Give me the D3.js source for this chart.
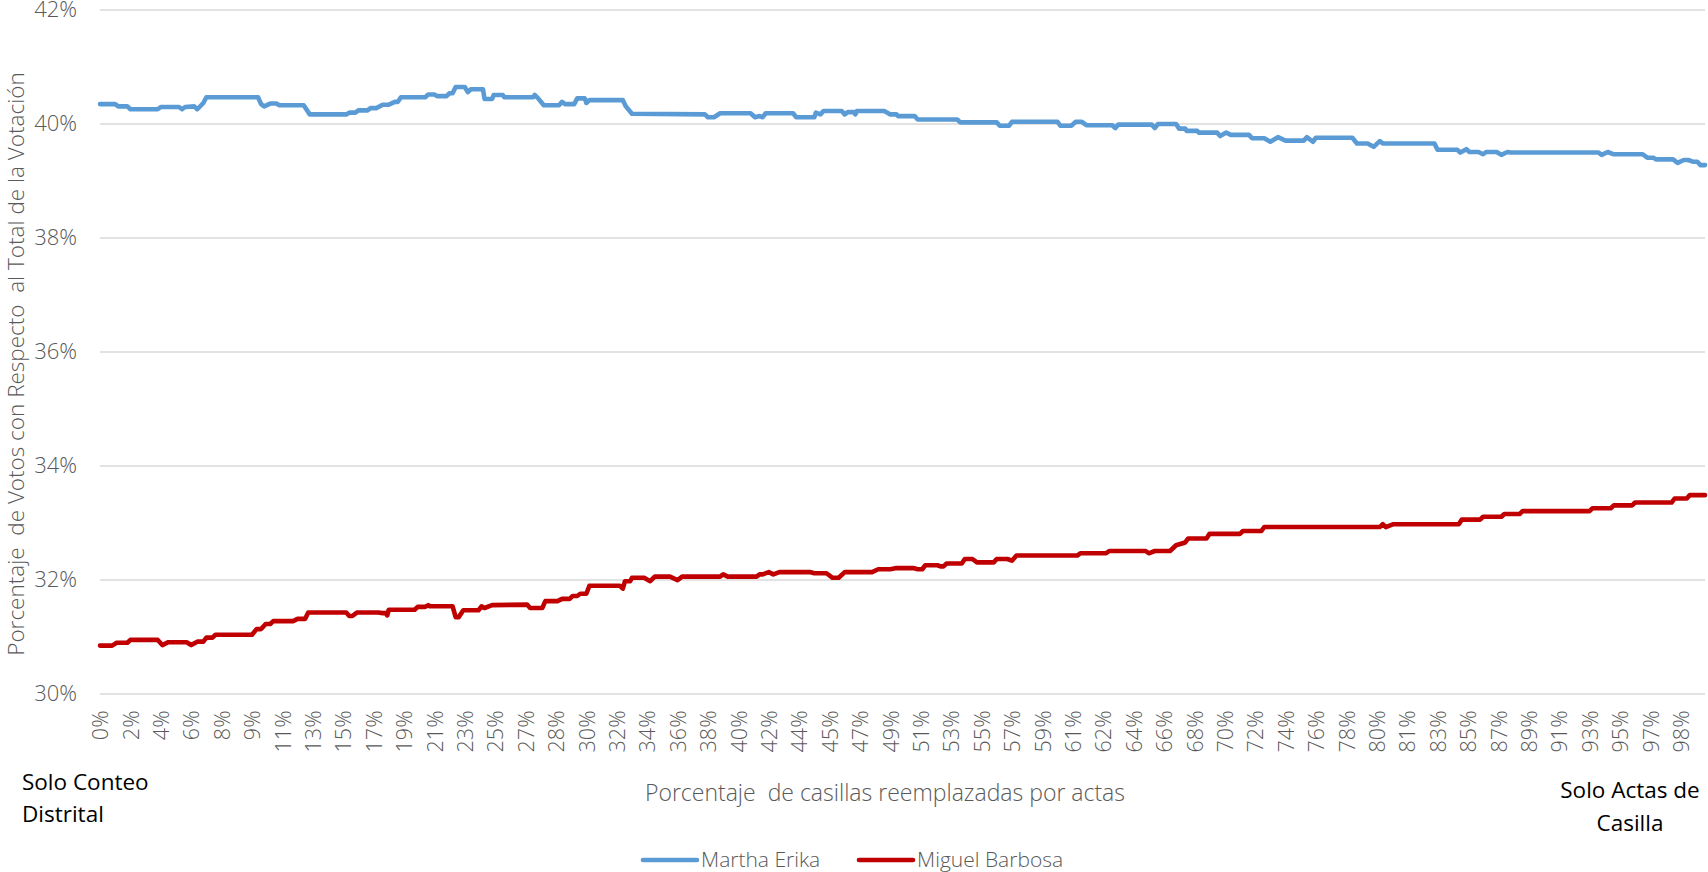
<!DOCTYPE html>
<html><head><meta charset="utf-8">
<script src="https://cdn.jsdelivr.net/npm/d3@7/dist/d3.min.js"></script>
<style>
body{margin:0;background:#fff;}
svg text{font-family:"Open Sans",sans-serif;}
</style></head><body>
<svg id="c" width="1708" height="872"></svg>
<script>
// ---- data (x = casilla index, 0..528; y = % of total votes) ----
const nCasillas = 528;
const labelStep = 10;
const xTickLabels = ["0%","2%","4%","6%","8%","9%","11%","13%","15%","17%","19%","21%","23%","25%","27%","28%","30%","32%","34%","36%","38%","40%","42%","44%","45%","47%","49%","51%","53%","55%","57%","59%","61%","62%","64%","66%","68%","70%","72%","74%","76%","78%","80%","81%","83%","85%","87%","89%","91%","93%","95%","97%","98%"];
const yTickValues = [30,32,34,36,38,40,42];
const seriesNames = ["Martha Erika","Miguel Barbosa"];
const seriesColors = ["#5B9BD5","#C00000"];

const marthaErika = [[0,40.34],[5,40.34],[6,40.30],[9,40.30],[10,40.25],[19,40.25],[20,40.29],[26,40.29],[27,40.25],[28,40.29],[31,40.30],[32,40.25],[34,40.36],[35,40.46],[52,40.46],[53,40.34],[54,40.30],[56,40.35],[58,40.35],[59,40.32],[67,40.32],[69,40.16],[81,40.16],[82,40.19],[84,40.19],[85,40.23],[88,40.23],[89,40.27],[91,40.27],[93,40.33],[95,40.33],[97,40.38],[98,40.38],[99,40.46],[107,40.46],[108,40.51],[110,40.51],[111,40.48],[114,40.48],[115,40.53],[116,40.53],[117,40.64],[120,40.64],[121,40.55],[122,40.60],[126,40.60],[126.5,40.43],[129,40.43],[129.5,40.50],[132.5,40.50],[133,40.46],[142.5,40.46],[143,40.50],[144,40.45],[146,40.32],[151,40.32],[152,40.38],[153,40.34],[156,40.34],[157,40.44],[159.5,40.44],[160,40.36],[161,40.41],[172,40.41],[173,40.30],[175,40.17],[199,40.16],[200,40.11],[202,40.11],[204,40.18],[214,40.18],[215.5,40.11],[217,40.13],[218,40.11],[219,40.18],[228,40.18],[229,40.11],[235,40.11],[235.5,40.19],[237,40.16],[238,40.22],[244,40.22],[245,40.16],[246,40.20],[248,40.20],[248.5,40.16],[249,40.22],[258,40.22],[260,40.16],[262,40.16],[262.5,40.13],[268,40.13],[269,40.07],[282,40.07],[283,40.02],[295,40.02],[296,39.96],[299,39.96],[300,40.03],[315,40.03],[316,39.96],[319.5,39.96],[321,40.03],[323,40.03],[324.5,39.97],[333,39.97],[334,39.92],[335,39.98],[346,39.98],[347,39.92],[348,39.99],[354,39.99],[355,39.91],[357,39.91],[357.5,39.87],[361,39.87],[361.5,39.84],[367.5,39.84],[368.5,39.78],[370.5,39.84],[372,39.80],[378,39.80],[379,39.74],[383,39.74],[385,39.68],[387.5,39.76],[390,39.70],[396,39.70],[397,39.76],[399,39.68],[400,39.75],[412,39.75],[413.5,39.65],[417,39.65],[419,39.59],[421,39.69],[422,39.65],[439,39.65],[440,39.54],[446.5,39.54],[447.5,39.49],[449.5,39.55],[450.5,39.50],[453.5,39.50],[455,39.46],[456,39.50],[459.5,39.50],[461,39.45],[463,39.50],[464,39.49],[493,39.49],[494,39.45],[496,39.50],[498,39.46],[507.5,39.46],[509,39.40],[511,39.40],[512,39.37],[517.5,39.37],[519,39.31],[521,39.36],[522.5,39.36],[524,39.33],[525.5,39.33],[526.5,39.27],[528,39.27]];

const miguelBarbosa = [[0,30.84],[4,30.84],[5.5,30.89],[9,30.89],[10,30.94],[19,30.94],[20.5,30.85],[22.5,30.90],[28.5,30.90],[30,30.85],[32,30.91],[34,30.91],[35,30.98],[37,30.98],[38,31.03],[50,31.03],[51.5,31.13],[53,31.13],[54.5,31.22],[56,31.22],[57,31.27],[63.5,31.27],[65,31.31],[67.5,31.31],[68.5,31.42],[81,31.42],[82,31.36],[83,31.36],[84.5,31.42],[91.5,31.42],[93,31.41],[94,31.41],[94.5,31.37],[95,31.47],[103.5,31.47],[104.5,31.52],[107,31.52],[108,31.55],[108.5,31.53],[116,31.53],[117,31.34],[118,31.34],[119.5,31.46],[124.5,31.46],[125.5,31.53],[126.5,31.50],[129,31.55],[140.5,31.56],[141.5,31.50],[145.5,31.50],[146.5,31.62],[150.5,31.62],[152,31.66],[154.5,31.66],[155.5,31.71],[157,31.71],[158,31.75],[160,31.75],[161,31.89],[171,31.89],[172,31.84],[172.7,31.97],[174.4,31.97],[175,32.03],[179,32.03],[181,31.97],[182.5,32.05],[187.5,32.05],[190,31.99],[191.5,32.05],[204,32.05],[205,32.09],[206.5,32.05],[216,32.05],[217,32.09],[218,32.09],[220,32.13],[221.5,32.09],[223.5,32.13],[233.5,32.13],[235,32.11],[239,32.11],[241,32.03],[243,32.03],[245,32.13],[254,32.13],[256,32.18],[260,32.18],[262,32.20],[267.5,32.20],[269,32.18],[270.5,32.18],[271.5,32.25],[275.5,32.25],[276.5,32.23],[277.5,32.23],[278.5,32.28],[283.5,32.28],[284.5,32.36],[287,32.36],[288.5,32.30],[294,32.30],[295,32.36],[298.5,32.36],[300,32.33],[301.5,32.42],[321.5,32.42],[322.5,32.46],[331,32.46],[332,32.50],[344,32.50],[345,32.46],[347,32.50],[352,32.50],[354,32.60],[357,32.65],[358,32.72],[364,32.72],[365,32.80],[375,32.80],[376,32.85],[382,32.85],[383,32.92],[421,32.92],[422,32.97],[423,32.92],[425.5,32.97],[447,32.97],[448,33.05],[454,33.05],[455,33.10],[461,33.10],[462,33.15],[467,33.15],[468,33.20],[490,33.20],[491,33.25],[497,33.25],[498,33.30],[504,33.30],[505,33.35],[517,33.35],[518,33.42],[522,33.42],[523,33.48],[528,33.48]];

// ---- layout ----
const svg = d3.select("#c");
const L = 100, R = 1705, T = 9.5, B = 693.5;
const x = d3.scaleLinear().domain([0, nCasillas]).range([L, R]);
const y = d3.scaleLinear().domain([30, 42]).range([B, T]);
const gray = "#595959";

// y axis + gridlines
const gy = svg.append("g").attr("transform", `translate(${L},0)`)
  .call(d3.axisLeft(y).tickValues(yTickValues).tickFormat(d => d + "%").tickSize(-(R - L)).tickPadding(23));
gy.select(".domain").remove();
gy.selectAll(".tick line").attr("stroke", "#D9D9D9").attr("stroke-width", 1.6);
gy.selectAll(".tick text").attr("fill", gray).style("font-size", "22px").style("font-weight", 300)
  .style("font-family", "'Open Sans',sans-serif");

// x axis
const gx = svg.append("g").attr("transform", `translate(0,${B})`)
  .call(d3.axisBottom(x).tickValues(d3.range(0, nCasillas, labelStep)).tickFormat((d, i) => xTickLabels[i]).tickSize(0));
gx.select(".domain").remove();
gx.selectAll(".tick text").attr("fill", gray).style("font-size", "21.5px").style("font-weight", 300)
  .style("font-family", "'Open Sans',sans-serif")
  .attr("transform", "rotate(-90)").attr("text-anchor", "end")
  .attr("x", -17).attr("y", 0).attr("dy", "0.36em");

// lines
const line = d3.line().x(d => x(d[0])).y(d => y(d[1]));
[marthaErika, miguelBarbosa].forEach((s, i) => {
  svg.append("path").datum(s).attr("d", line).attr("fill", "none")
    .attr("stroke", seriesColors[i]).attr("stroke-width", 4.6)
    .attr("stroke-linejoin", "round").attr("stroke-linecap", "round");
});

// axis titles
svg.append("text").attr("transform", "translate(24,364) rotate(-90)")
  .attr("text-anchor", "middle").attr("fill", gray).style("font-size", "22.5px").style("font-weight", 300)
  .style("white-space", "pre").text("Porcentaje  de Votos con Respecto  al Total de la Votación");
svg.append("text").attr("x", 885).attr("y", 801).attr("text-anchor", "middle").attr("fill", gray)
  .style("font-size", "23px").style("font-weight", 300).style("white-space", "pre")
  .text("Porcentaje  de casillas reemplazadas por actas");

// annotations
const ann = svg.append("g").attr("fill", "#000").style("font-size", "22.5px");
ann.append("text").attr("x", 22).attr("y", 790).text("Solo Conteo");
ann.append("text").attr("x", 22).attr("y", 822).text("Distrital");
ann.append("text").attr("x", 1630).attr("y", 798).attr("text-anchor", "middle").text("Solo Actas de");
ann.append("text").attr("x", 1630).attr("y", 831).attr("text-anchor", "middle").text("Casilla");

// legend
const legX = [643, 859];
seriesNames.forEach((n, i) => {
  const g = svg.append("g").attr("transform", `translate(${legX[i]},860)`);
  g.append("line").attr("x1", 0).attr("x2", 54).attr("stroke", seriesColors[i]).attr("stroke-width", 4.6).attr("stroke-linecap", "round");
  g.append("text").attr("x", 58).attr("y", 0).attr("dy", "0.35em").attr("fill", gray)
    .style("font-size", "21px").style("font-weight", 300).text(n);
});
</script>
</body></html>
